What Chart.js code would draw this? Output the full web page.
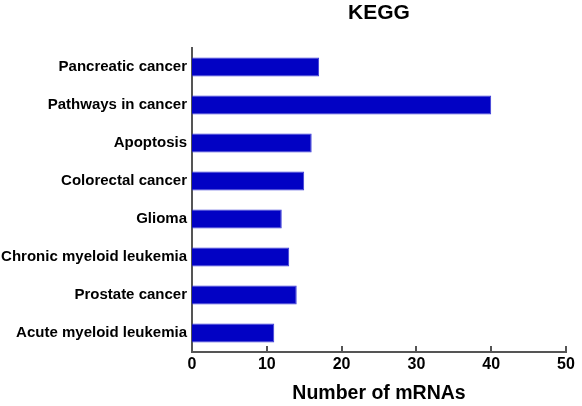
<!DOCTYPE html>
<html><head><meta charset="utf-8">
<script src="https://cdn.jsdelivr.net/npm/chart.js@4"></script>
<style>html,body{margin:0;padding:0;background:#fff}#wrap{width:582px;height:406px}</style>
</head><body><div id="wrap"><canvas id="c" width="582" height="406"></canvas></div>
<script>
const chartTitle = "KEGG";
const categories = ["Pancreatic cancer","Pathways in cancer","Apoptosis","Colorectal cancer","Glioma","Chronic myeloid leukemia","Prostate cancer","Acute myeloid leukemia"];
const counts = [17, 40, 16, 15, 12, 13, 14, 11];
const xTicks = [0, 10, 20, 30, 40, 50];
const xTitle = "Number of mRNAs";

const FONT = "'Liberation Sans', Arial, sans-serif";

const deco = {
  id: 'deco',
  afterDraw(chart) {
    const ctx = chart.ctx, x = chart.scales.x, a = chart.chartArea;
    ctx.save();
    ctx.strokeStyle = '#555';
    ctx.lineWidth = 2;
    xTicks.forEach(v => {
      const px = Math.round(x.getPixelForValue(v));
      ctx.beginPath(); ctx.moveTo(px, a.bottom); ctx.lineTo(px, a.bottom - 6); ctx.stroke();
    });
    ctx.fillStyle = '#000';
    ctx.font = "bold 21px " + FONT;
    ctx.textAlign = 'center'; ctx.textBaseline = 'middle';
    ctx.fillText(chartTitle, (a.left + a.right) / 2, 13);
    ctx.restore();
  }
};

new Chart(document.getElementById('c'), {
  type: 'bar',
  data: { labels: categories, datasets: [{ data: counts, backgroundColor: '#0202c4', borderColor: '#3a3ad8', borderWidth: 1, barPercentage: 0.5, categoryPercentage: 1 }] },
  options: {
    indexAxis: 'y', responsive: false, animation: false, devicePixelRatio: 1,
    layout: { padding: { top: 48, right: 16, left: 0, bottom: 0 } },
    plugins: { legend: { display: false }, tooltip: { enabled: false } },
    scales: {
      x: {
        min: 0, max: 50,
        afterBuildTicks: s => { s.ticks = xTicks.map(v => ({ value: v })); },
        afterFit: s => { s.height = 54; },
        grid: { display: false, drawTicks: false },
        border: { color: '#555', width: 2 },
        ticks: { color: '#000', font: { family: FONT, size: 16, weight: 'bold' }, padding: 3 },
        title: { display: true, text: xTitle, color: '#000', font: { family: FONT, size: 19.5, weight: 'bold' }, padding: { top: 6, bottom: 1 } }
      },
      y: {
        afterFit: s => { s.width = 192; },
        grid: { display: false, drawTicks: false },
        border: { color: '#555', width: 2 },
        ticks: { color: '#000', font: { family: FONT, size: 15, weight: 'bold' }, padding: 5 }
      }
    }
  },
  plugins: [deco]
});
</script></body></html>
